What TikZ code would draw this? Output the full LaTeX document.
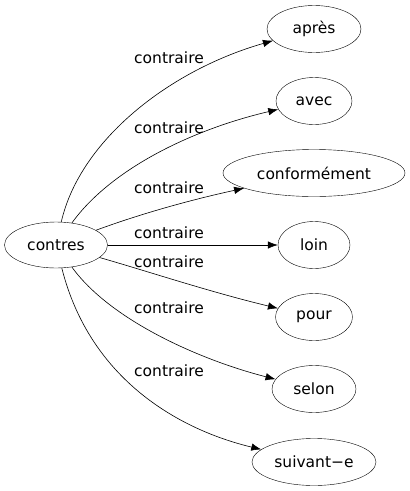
\documentclass[tikz,border=0pt]{standalone}
\usepackage{fontspec}
\setmainfont{DejaVu Sans}
\usetikzlibrary{shapes.geometric,arrows.meta}
\begin{document}
\begin{tikzpicture}[x=1pt,y=-1pt,
  word/.style={draw,ellipse,inner sep=0pt,font=\fontsize{15.5}{18}\selectfont},
  rel/.style={-{Latex[length=10pt,width=7.5pt]},line width=0.6pt},
  lbl/.style={font=\fontsize{15.5}{18}\selectfont,inner sep=0pt}]
\useasboundingbox (0,0) rectangle (410,491);
\node[word,minimum width=103pt,minimum height=46pt] (contres) at (56,245) {contres};
\node[word,minimum width=94pt,minimum height=47pt] (apres) at (314,29) {après};
\node[word,minimum width=76pt,minimum height=47pt] (avec) at (314,101) {avec};
\node[word,minimum width=182pt,minimum height=47pt] (conf) at (314,173) {conformément};
\node[word,minimum width=72pt,minimum height=47pt] (loin) at (314,245) {loin};
\node[word,minimum width=77pt,minimum height=47pt] (pour) at (314,317) {pour};
\node[word,minimum width=84pt,minimum height=47pt] (selon) at (314,389) {selon};
\node[word,minimum width=124pt,minimum height=47pt] (suiv) at (314,462) {suivant−e};
\draw[rel] (contres) .. controls (80,140) and (170,70) .. (apres);
\draw[rel] (contres) .. controls (110,170) and (190,130) .. (avec);
\draw[rel] (contres) .. controls (140,214) and (190,200) .. (conf);
\draw[rel] (contres) -- (loin);
\draw[rel] (contres) .. controls (150,272) and (210,292) .. (pour);
\draw[rel] (contres) .. controls (110,320) and (200,360) .. (selon);
\draw[rel] (contres) .. controls (90,380) and (180,430) .. (suiv);
\node[lbl] (l1) at (169,58) {contraire};
\node[lbl] (l2) at (169,128) {contraire};
\node[lbl] (l3) at (169,188) {contraire};
\node[lbl] (l4) at (169,233) {contraire};
\node[lbl] (l5) at (169,262) {contraire};
\node[lbl] (l6) at (169,308) {contraire};
\node[lbl] (l7) at (169,371) {contraire};
\end{tikzpicture}
\end{document}
